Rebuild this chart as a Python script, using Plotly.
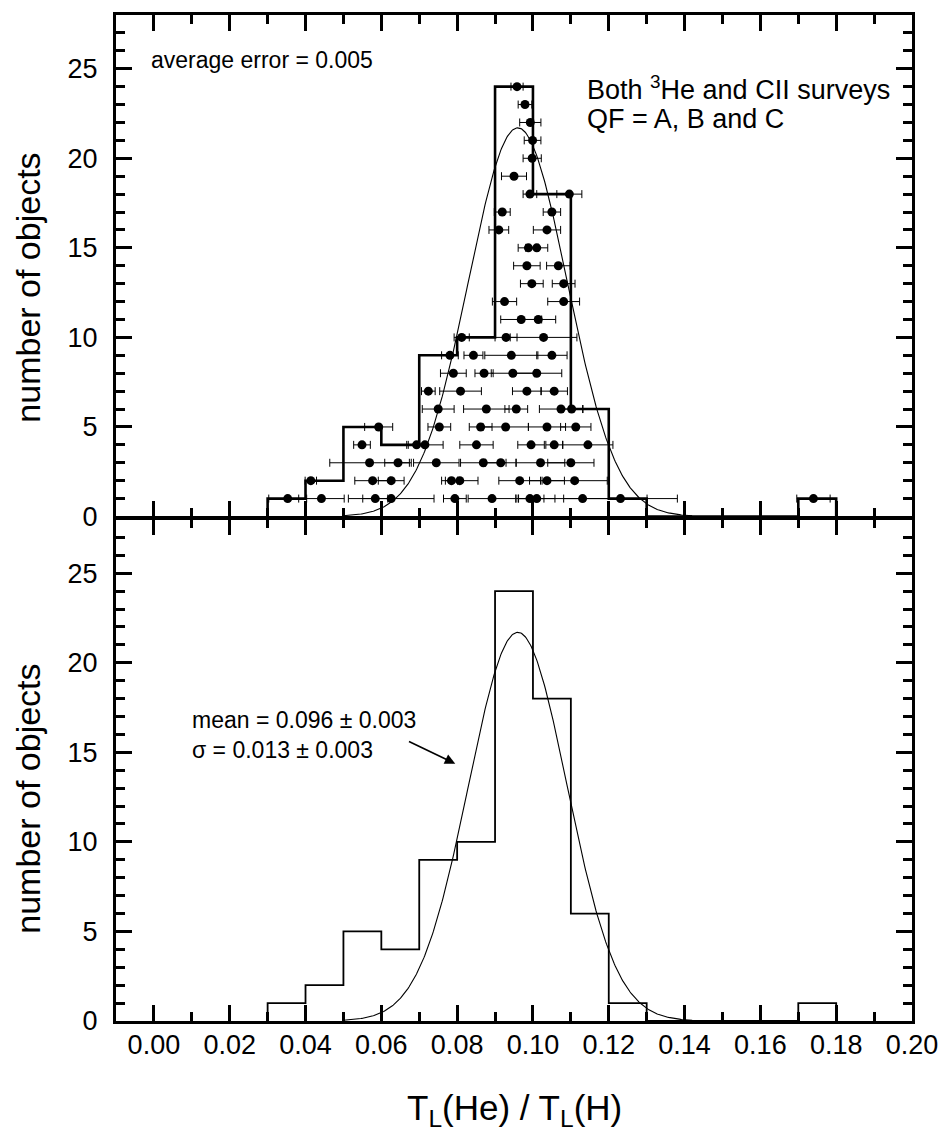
import numpy as np
import plotly.graph_objects as go

# Histogram of T_L(He)/T_L(H): bin edges and number of objects per bin
bin_edges = [0.03, 0.04, 0.05, 0.06, 0.07, 0.08, 0.09, 0.10, 0.11, 0.12,
             0.13, 0.14, 0.15, 0.16, 0.17, 0.18]
bin_counts = [1, 2, 5, 4, 9, 10, 24, 18, 6, 1, 0, 0, 0, 0, 1]

# Gaussian fit parameters
fit_mean = 0.096
fit_sigma = 0.013
fit_peak = 21.7
fit_range = (0.05, 0.142)

# Individual objects: ratio value, its error and its stacking level
dot_level = ([1] * 11 + [2] * 8 + [3] * 7 + [4] * 7 + [5] * 6 + [6] * 5 +
             [7] * 4 + [8] * 4 + [9] * 4 + [10] * 3 +
             [11] * 2 + [12] * 2 + [13] * 2 + [14] * 2 + [15] * 2 + [16] * 2 +
             [17] * 2 + [18] * 2 + [19, 20, 21, 22, 23, 24])
dot_x = [
    0.0353, 0.0442, 0.0584, 0.0626, 0.0794, 0.0892, 0.0992, 0.1010, 0.1131, 0.1231, 0.1740,
    0.0414, 0.0577, 0.0626, 0.0785, 0.0807, 0.0965, 0.1037, 0.1110,
    0.0569, 0.0644, 0.0745, 0.0869, 0.0915, 0.1020, 0.1100,
    0.0549, 0.0693, 0.0715, 0.0851, 0.0995, 0.1056, 0.1145,
    0.0593, 0.0753, 0.0862, 0.0928, 0.1037, 0.1113,
    0.0750, 0.0877, 0.0956, 0.1074, 0.1102,
    0.0724, 0.0809, 0.0984, 0.1056,
    0.0790, 0.0871, 0.0947, 0.1010,
    0.0781, 0.0843, 0.0943, 0.1050,
    0.0812, 0.0929, 0.1028,
    0.0969, 0.1014,
    0.0925, 0.1081,
    0.0997, 0.1081,
    0.0984, 0.1067,
    0.0988, 0.1010,
    0.0910, 0.1037,
    0.0919, 0.1050,
    0.0992, 0.1096,
    0.0950, 0.0998, 0.0999, 0.0993, 0.0979, 0.0958,
]
dot_err = [
    0.0050, 0.0060, 0.0033, 0.0113, 0.0030, 0.0063, 0.0037, 0.0048, 0.0170, 0.0150, 0.0044,
    0.0015, 0.0047, 0.0034, 0.0016, 0.0048, 0.0055, 0.0046, 0.0086,
    0.0105, 0.0035, 0.0060, 0.0060, 0.0040, 0.0064, 0.0061,
    0.0022, 0.0022, 0.0048, 0.0044, 0.0035, 0.0022, 0.0066,
    0.0037, 0.0030, 0.0030, 0.0060, 0.0049, 0.0040,
    0.0042, 0.0060, 0.0030, 0.0057, 0.0030,
    0.0018, 0.0055, 0.0038, 0.0035,
    0.0034, 0.0024, 0.0057, 0.0066,
    0.0022, 0.0025, 0.0070, 0.0040,
    0.0020, 0.0029, 0.0088,
    0.0054, 0.0046,
    0.0032, 0.0042,
    0.0030, 0.0030,
    0.0035, 0.0031,
    0.0027, 0.0029,
    0.0026, 0.0036,
    0.0021, 0.0023,
    0.0018, 0.0033,
    0.0033, 0.0024, 0.0022, 0.0028, 0.0018, 0.0016,
]

FONT = "Liberation Sans, Arial, Helvetica, sans-serif"
FIG_W, FIG_H = 950, 1135
MARGIN = dict(l=116, r=33, t=12, b=114)
FRAME = 3  # frame line width in px


def outline(edges, counts):
    """Step outline of a histogram, closed down to zero at both ends."""
    xs, ys = [edges[0]], [0]
    for i, c in enumerate(counts):
        xs += [edges[i], edges[i + 1]]
        ys += [c, c]
    xs.append(edges[-1])
    ys.append(0)
    return xs, ys


hx, hy = outline(bin_edges, bin_counts)
gx = np.linspace(fit_range[0], fit_range[1], 400)
gy = fit_peak * np.exp(-0.5 * ((gx - fit_mean) / fit_sigma) ** 2)

fig = go.Figure()

# Upper panel: histogram, individual objects with error bars, fit
fig.add_trace(go.Scatter(x=hx, y=hy, mode="lines", xaxis="x", yaxis="y",
                         line=dict(color="black", width=2.6), hoverinfo="skip"))
fig.add_trace(go.Scatter(x=gx, y=gy, mode="lines", xaxis="x", yaxis="y",
                         line=dict(color="black", width=1.1), hoverinfo="skip"))
fig.add_trace(go.Scatter(
    x=dot_x, y=dot_level, mode="markers", xaxis="x", yaxis="y",
    marker=dict(color="black", size=9),
    error_x=dict(type="data", array=dot_err, color="black", thickness=1, width=4),
))

# Lower panel: histogram and fit
fig.add_trace(go.Scatter(x=hx, y=hy, mode="lines", xaxis="x2", yaxis="y2",
                         line=dict(color="black", width=1.8), hoverinfo="skip"))
fig.add_trace(go.Scatter(x=gx, y=gy, mode="lines", xaxis="x2", yaxis="y2",
                         line=dict(color="black", width=1.1), hoverinfo="skip"))

axis_common = dict(
    showline=True, linecolor="black", linewidth=FRAME, mirror="ticks",
    ticks="inside", ticklen=16, tickwidth=2.5, tickcolor="black",
    showgrid=False, zeroline=False,
    tickfont=dict(family=FONT, size=27, color="black"),
)
x_common = dict(axis_common, range=[-0.01, 0.20], tick0=0, dtick=0.02,
                minor=dict(dtick=0.01, tick0=0, ticks="inside", ticklen=9,
                           tickwidth=2.5, tickcolor="black"))
y_common = dict(axis_common, range=[0, 28], tick0=0, dtick=5,
                ticklabelstandoff=10,
                minor=dict(dtick=1, tick0=0, ticks="inside", ticklen=9,
                           tickwidth=2.5, tickcolor="black"))

# The two panels share one frame line: leave a gap equal to the line width
# so the lower panel's top line and the upper panel's bottom line coincide.
plot_h = FIG_H - MARGIN["t"] - MARGIN["b"]
half_gap = FRAME / 2 / plot_h

fig.update_layout(
    width=FIG_W, height=FIG_H,
    margin=MARGIN,
    paper_bgcolor="white", plot_bgcolor="white",
    showlegend=False,
    font=dict(family=FONT, color="black"),
    xaxis=dict(x_common, domain=[0, 1], anchor="y", showticklabels=False),
    yaxis=dict(y_common, domain=[0.5 + half_gap, 1], anchor="x"),
    xaxis2=dict(x_common, domain=[0, 1], anchor="y2", tickformat=".2f",
                ticklabelstandoff=-2),
    yaxis2=dict(y_common, domain=[0, 0.5 - half_gap], anchor="x2"),
)

annotations = [
    dict(text="number of objects", textangle=-90, xref="paper", yref="paper",
         x=-0.1105, y=0.729, xanchor="center", yanchor="middle",
         showarrow=False, font=dict(size=34)),
    dict(text="number of objects", textangle=-90, xref="paper", yref="paper",
         x=-0.1105, y=0.221, xanchor="center", yanchor="middle",
         showarrow=False, font=dict(size=34)),
    dict(text="T<sub>L</sub>(He) / T<sub>L</sub>(H)", xref="paper", yref="paper",
         x=0.5, y=-0.088, xanchor="center", yanchor="middle",
         showarrow=False, font=dict(size=35)),
    dict(text="average error = 0.005", xref="x", yref="y", x=-0.0013, y=25.48,
         xanchor="left", yanchor="middle", showarrow=False, font=dict(size=23)),
    dict(text="Both <sup>3</sup>He and CII surveys", xref="x", yref="y",
         x=0.1138, y=23.9, xanchor="left", yanchor="middle", showarrow=False,
         font=dict(size=27)),
    dict(text="QF = A, B and C", xref="x", yref="y", x=0.1138, y=22.2,
         xanchor="left", yanchor="middle", showarrow=False, font=dict(size=27)),
    dict(text=f"mean = {fit_mean:.3f} \u00b1 0.003", xref="x2", yref="y2",
         x=0.0095, y=16.82, xanchor="left", yanchor="middle", showarrow=False,
         font=dict(size=23)),
    dict(text=f"\u03c3 = {fit_sigma:.3f} \u00b1 0.003", xref="x2", yref="y2",
         x=0.0095, y=15.15, xanchor="left", yanchor="middle", showarrow=False,
         font=dict(size=23)),
    dict(text="", xref="x2", yref="y2", x=0.0795, y=14.37,
         ax=0.0669, ay=15.65, axref="x2", ayref="y2", showarrow=True,
         arrowhead=2, arrowsize=1.3, arrowwidth=1.6, arrowcolor="black"),
]
fig.update_layout(annotations=annotations)

fig.write_html("out.html")
